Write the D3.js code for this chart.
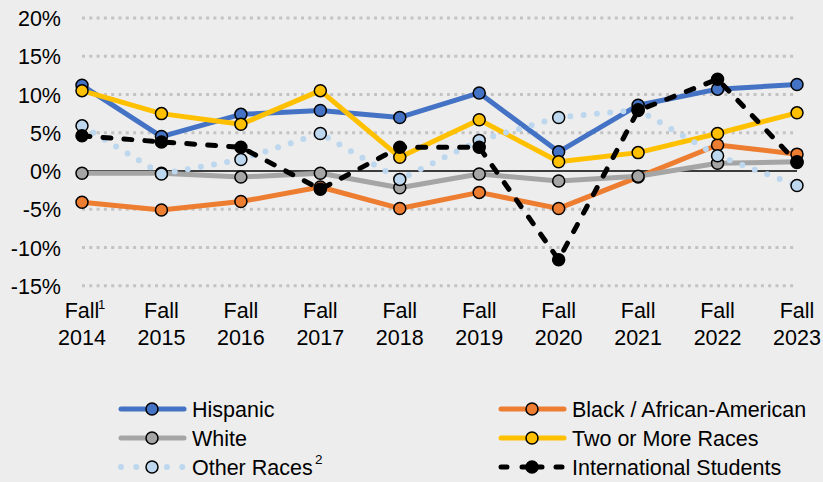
<!DOCTYPE html>
<html>
<head>
<meta charset="utf-8">
<script src="https://cdn.jsdelivr.net/npm/d3@7"></script>
<style>
  body { margin: 0; background: #ededed; }
  svg text { font-family: "Liberation Sans", Arial, sans-serif; fill: #000; }
</style>
</head>
<body>
<div class="chart"></div>
<script>
// Enrollment change by group, Fall 2014 - Fall 2023

var years = ["2014", "2015", "2016", "2017", "2018", "2019", "2020", "2021", "2022", "2023"];
var yTicks = [-15, -10, -5, 0, 5, 10, 15, 20];

var hispanic = [11.2, 4.5, 7.4, 7.9, 7.0, 10.2, 2.5, 8.6, 10.7, 11.3];
var black = [-4.1, -5.1, -4.0, -2.1, -4.9, -2.8, -4.9, -0.8, 3.4, 2.2];
var white = [-0.3, -0.3, -0.8, -0.3, -2.2, -0.4, -1.3, -0.7, 1.0, 1.2];
var twoOrMore = [10.5, 7.5, 6.1, 10.5, 1.8, 6.7, 1.2, 2.4, 4.9, 7.6];
var otherRaces = [5.9, -0.4, 1.5, 4.9, -1.1, 4.0, 7.0, 8.0, 2.0, -1.9];
var international = [4.6, 3.8, 3.1, -2.4, 3.1, 3.1, -11.6, 7.9, 12.0, 1.1];

var seriesNames = ["Hispanic", "Black / African-American", "White", "Two or More Races", "Other Races", "International Students"];

var svgWidth = 823;
var svgHeight = 482;

var series = [
  { name: seriesNames[0], values: hispanic, color: "#4472c4", fill: "#4472c4", dash: null },
  { name: seriesNames[1], values: black, color: "#ed7d31", fill: "#ed7d31", dash: null },
  { name: seriesNames[2], values: white, color: "#a5a5a5", fill: "#a5a5a5", dash: null },
  { name: seriesNames[3], values: twoOrMore, color: "#ffc000", fill: "#ffc000", dash: null },
  { name: seriesNames[4], values: otherRaces, color: "#bdd7ee", fill: "#bdd7ee", dash: "0 13.3", width: 6 },
  { name: seriesNames[5], values: international, color: "#000", fill: "#000", dash: "8 13" }
];

var svg = d3.select(".chart")
  .append("svg")
  .attr("width", svgWidth)
  .attr("height", svgHeight);

svg.append("rect")
  .attr("width", svgWidth)
  .attr("height", svgHeight)
  .attr("fill", "#ededed");

var xScale = d3.scalePoint()
  .domain(years)
  .range([82, 797]);

var yScale = d3.scaleLinear()
  .domain([-15, 20])
  .range([285.7, 18]);

// dotted gridlines
svg.append("g")
  .selectAll("line")
  .data(yTicks.filter(d => d !== 0))
  .enter()
  .append("line")
  .attr("x1", 82)
  .attr("x2", 797)
  .attr("y1", d => yScale(d))
  .attr("y2", d => yScale(d))
  .attr("stroke", "#c3c3c3")
  .attr("stroke-width", 3)
  .attr("stroke-dasharray", "3 4.3");

// zero line
svg.append("line")
  .attr("x1", 82)
  .attr("x2", 797)
  .attr("y1", yScale(0))
  .attr("y2", yScale(0))
  .attr("stroke", "#000")
  .attr("stroke-width", 1.5);

// y axis labels
var yAxis = d3.axisLeft(yScale)
  .tickValues(yTicks)
  .tickFormat(d => d + "%")
  .tickSize(0)
  .tickPadding(0);

var yAxisG = svg.append("g")
  .attr("transform", "translate(61,0)")
  .call(yAxis);
yAxisG.select(".domain").remove();
yAxisG.selectAll("text")
  .attr("font-size", "21.5px")
  .attr("fill", "#000")
  .attr("dy", "0.36em");

// x axis labels
var xLabels = svg.append("g");
xLabels.selectAll(".fall")
  .data(years)
  .enter()
  .append("text")
  .attr("class", "fall")
  .attr("x", d => xScale(d))
  .attr("y", 318)
  .attr("text-anchor", "middle")
  .attr("font-size", "21.5px")
  .text("Fall");
xLabels.selectAll(".year")
  .data(years)
  .enter()
  .append("text")
  .attr("class", "year")
  .attr("x", d => xScale(d))
  .attr("y", 345)
  .attr("text-anchor", "middle")
  .attr("font-size", "21.5px")
  .text(d => d);
xLabels.append("text")
  .attr("x", xScale(years[0]) + 16)
  .attr("y", 309)
  .attr("font-size", "13px")
  .text("1");

var line = d3.line()
  .x((d, i) => xScale(years[i]))
  .y(d => yScale(d));

series.forEach(function(s) {
  var g = svg.append("g");
  g.append("path")
    .datum(s.values)
    .attr("d", line)
    .attr("fill", "none")
    .attr("stroke", s.color)
    .attr("stroke-width", s.width || 5)
    .attr("stroke-linecap", "round")
    .attr("stroke-linejoin", "round")
    .attr("stroke-dasharray", s.dash);
  g.selectAll("circle")
    .data(s.values)
    .enter()
    .append("circle")
    .attr("cx", (d, i) => xScale(years[i]))
    .attr("cy", d => yScale(d))
    .attr("r", 6)
    .attr("fill", s.fill)
    .attr("stroke", "#000")
    .attr("stroke-width", 1.5);
});

// legend
var legendPos = [
  { x: 119, y: 409 }, { x: 499, y: 409 },
  { x: 119, y: 438 }, { x: 499, y: 438 },
  { x: 119, y: 467 }, { x: 499, y: 467 }
];

var legendOrder = [0, 1, 2, 3, 4, 5];
legendOrder.forEach(function(idx, k) {
  var s = series[idx];
  var p = legendPos[k];
  var g = svg.append("g").attr("transform", `translate(${p.x},${p.y})`);
  if (s.name === "International Students") {
    g.append("line").attr("x1", 2).attr("x2", 8).attr("y1", 0).attr("y2", 0)
      .attr("stroke", "#000").attr("stroke-width", 5).attr("stroke-linecap", "round");
    g.append("line").attr("x1", 23).attr("x2", 43).attr("y1", 0).attr("y2", 0)
      .attr("stroke", "#000").attr("stroke-width", 5).attr("stroke-linecap", "round");
    g.append("line").attr("x1", 57).attr("x2", 63).attr("y1", 0).attr("y2", 0)
      .attr("stroke", "#000").attr("stroke-width", 5).attr("stroke-linecap", "round");
  } else if (s.name === "Other Races") {
    g.append("line").attr("x1", 2).attr("x2", 66).attr("y1", 0).attr("y2", 0)
      .attr("stroke", s.color).attr("stroke-width", 6).attr("stroke-linecap", "round")
      .attr("stroke-dasharray", "0 15.3");
  } else {
    g.append("line").attr("x1", 2).attr("x2", 65).attr("y1", 0).attr("y2", 0)
      .attr("stroke", s.color).attr("stroke-width", 5).attr("stroke-linecap", "round");
  }
  g.append("circle")
    .attr("cx", 33)
    .attr("cy", 0)
    .attr("r", 6)
    .attr("fill", s.fill)
    .attr("stroke", "#000")
    .attr("stroke-width", 1.5);
  var t = g.append("text")
    .attr("x", 73)
    .attr("y", 0)
    .attr("dy", "0.36em")
    .attr("font-size", "21.5px")
    .text(s.name);
  if (s.name === "Other Races") {
    g.append("text")
      .attr("x", 196)
      .attr("y", -3)
      .attr("font-size", "13.5px")
      .text("2");
  }
});
</script>
</body>
</html>
